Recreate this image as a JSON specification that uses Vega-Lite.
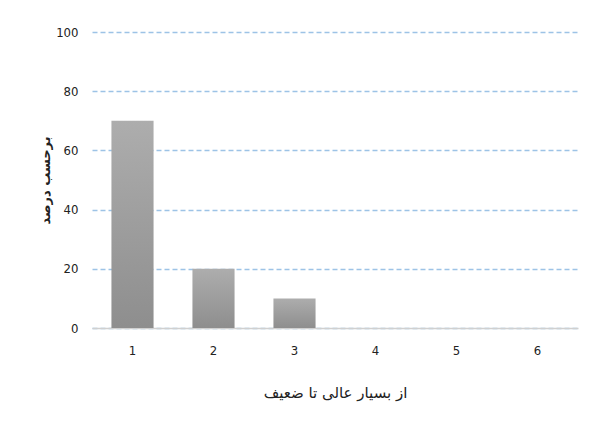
{
  "$schema": "https://vega.github.io/schema/vega-lite/v6.json",
  "autosize": {"type": "none"},
  "width": 486,
  "height": 296,
  "padding": {"left": 92, "top": 32, "right": 11, "bottom": 95},
  "background": "white",
  "config": {"view": {"stroke": null}},
  "data": {"values": [
    {"category": "1", "percent": 70},
    {"category": "2", "percent": 20},
    {"category": "3", "percent": 10},
    {"category": "4", "percent": 0},
    {"category": "5", "percent": 0},
    {"category": "6", "percent": 0}
  ]},
  "mark": {
    "type": "bar",
    "color": {
      "gradient": "linear", "x1": 0, "y1": 0, "x2": 0, "y2": 1,
      "stops": [{"offset": 0, "color": "#adadad"}, {"offset": 1, "color": "#8e8e8e"}]
    }
  },
  "encoding": {
    "x": {
      "field": "category", "type": "ordinal",
      "scale": {"paddingInner": 0.48, "paddingOuter": 0.24},
      "axis": {
        "labelAngle": 0, "ticks": false, "domainColor": "#d0d0d0", "domainWidth": 1.5,
        "labelFont": "DejaVu Sans Condensed", "labelFontSize": 13, "labelColor": "#222222", "labelPadding": 16,
        "title": "از بسیار عالی تا ضعیف", "titleFont": "DejaVu Sans", "titleFontSize": 15, "titleFontWeight": "normal",
        "titleColor": "#222222", "titlePadding": 28
      }
    },
    "y": {
      "field": "percent", "type": "quantitative",
      "scale": {"domain": [0, 100]},
      "axis": {
        "values": [0, 20, 40, 60, 80, 100], "ticks": false, "domain": false,
        "gridColor": "#9dc3e6", "gridDash": [5, 3], "gridWidth": 1.3,
        "labelFont": "DejaVu Sans Condensed", "labelFontSize": 13, "labelColor": "#222222", "labelPadding": 14,
        "title": "برحسب درصد", "titleFont": "DejaVu Sans", "titleFontSize": 13, "titleFontWeight": "bold",
        "titleColor": "#222222", "titlePadding": 3
      }
    }
  }
}
